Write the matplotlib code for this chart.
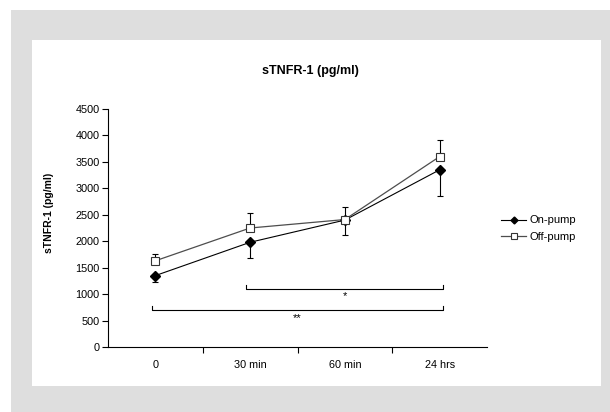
import numpy as np
import matplotlib.pyplot as plt
from matplotlib.patches import Rectangle

plt.rcParams['font.family'] = ['Liberation Sans', 'DejaVu Sans']

# data
times = ['0', '30 min', '60 min', '24 hrs']
on_pump = [1350, 1980, 2400, 3350]
on_pump_err = [120, 300, 280, 500]      # drawn downwards only
off_pump = [1630, 2250, 2410, 3600]
off_pump_err = [125, 290, 240, 320]     # drawn upwards only

# significance brackets: (x start, x end, y, label)
brackets = [(1.0, 3.0, 1100, '*'), (0.0, 3.0, 700, '**')]

W, H = 610, 412
fig = plt.figure(figsize=(W / 100, H / 100), dpi=100, facecolor='white')

# grey frame and white inner panel
fig.patches.append(Rectangle((11 / W, 0), (W - 11) / W, (H - 10) / H,
                             transform=fig.transFigure, facecolor='#dedede',
                             edgecolor='none', zorder=-2))
fig.patches.append(Rectangle((32 / W, (H - 386) / H), (601 - 32) / W, (386 - 40) / H,
                             transform=fig.transFigure, facecolor='white',
                             edgecolor='none', zorder=-1))

ax = fig.add_axes([108 / W, 1 - 347 / H, (487 - 108) / W, (347 - 109) / H])
ax.set_facecolor('none')

x = np.arange(len(times))

ax.errorbar(x, off_pump, yerr=[np.zeros(4), off_pump_err], fmt='none',
            ecolor='black', elinewidth=0.8, capsize=2.3, capthick=0.8, zorder=2)
ax.errorbar(x, on_pump, yerr=[on_pump_err, np.zeros(4)], fmt='none',
            ecolor='black', elinewidth=0.8, capsize=2.3, capthick=0.8, zorder=2)

ax.plot(x, on_pump, color='black', lw=0.8, marker='D', markersize=5,
        markerfacecolor='black', markeredgecolor='black', label='On-pump', zorder=3)
ax.plot(x, off_pump, color='#4d4d4d', lw=0.9, marker='s', markersize=6,
        markerfacecolor='white', markeredgecolor='#333333', markeredgewidth=0.8,
        label='Off-pump', zorder=4)

for x0, x1, yb, lab in brackets:
    x0 -= 0.04
    x1 += 0.04
    ax.plot([x0, x0, x1, x1], [yb + 75, yb, yb, yb + 75], color='black', lw=0.8)
    ax.text((x0 + x1) / 2, yb - 50, lab, ha='center', va='top', fontsize=8)

ax.set_xlim(-0.5, 3.5)
ax.set_ylim(0, 4500)
ax.set_yticks(np.arange(0, 4501, 500))
ax.set_xticks(x)
ax.set_xticklabels(times)
ax.set_xticks([0.5, 1.5, 2.5], minor=True)
ax.tick_params(axis='x', which='major', length=0, pad=9, labelsize=7.8)
ax.tick_params(axis='x', which='minor', length=4, width=0.8, direction='out')
ax.tick_params(axis='y', length=4, width=0.8, direction='out', labelsize=7.8, pad=2)

for side in ['top', 'right']:
    ax.spines[side].set_visible(False)
for side in ['left', 'bottom']:
    ax.spines[side].set_linewidth(0.8)

fig.text(48.5 / W, 1 - 213 / H, 'sTNFR-1 (pg/ml)', rotation=90, ha='center',
         va='center', fontsize=7.5, fontweight='bold')
fig.text(310 / W, 1 - 71 / H, 'sTNFR-1 (pg/ml)', ha='center', va='center',
         fontsize=9, fontweight='bold')

ax.legend(loc='center left', bbox_to_anchor=(501 / W, 1 - 228.5 / H),
          bbox_transform=fig.transFigure, frameon=False, fontsize=8,
          borderpad=0, borderaxespad=0, handlelength=2.25, markerscale=0.7,
          handletextpad=0.3, labelspacing=0.55)

fig.savefig('out.png', dpi=100, facecolor='white')
